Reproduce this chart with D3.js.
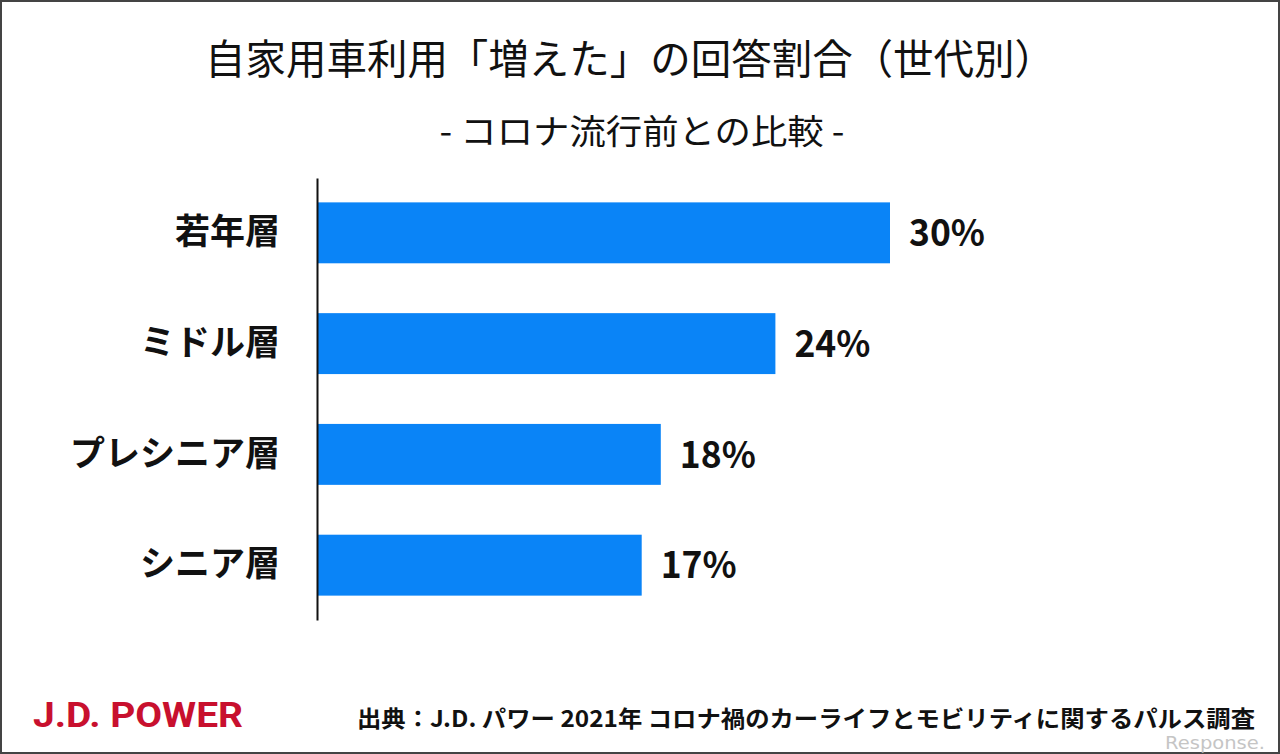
<!DOCTYPE html>
<html><head><meta charset="utf-8">
<script src="https://cdn.jsdelivr.net/npm/d3@7"></script>
<style>
html,body{margin:0;padding:0;background:#fff;}
svg{display:block;font-family:"Noto Sans CJK JP","Noto Sans",sans-serif;}
</style></head>
<body>
<svg id="c" width="1280" height="754"></svg>
<script>
const categories = ["若年層", "ミドル層", "プレシニア層", "シニア層"];
const values = [30, 24, 18, 17];
const valueLabels = ["30%", "24%", "18%", "17%"];
const title = "自家用車利用「増えた」の回答割合（世代別）";
const subtitle = "- コロナ流行前との比較 -";
const source = "出典：J.D. パワー 2021年 コロナ禍のカーライフとモビリティに関するパルス調査";

const svg = d3.select("#c");
svg.append("rect").attr("x",1).attr("y",1).attr("width",1278).attr("height",752)
  .attr("fill","#fff").attr("stroke","#444").attr("stroke-width",2);

svg.append("text").attr("x",630).attr("y",74).attr("text-anchor","middle")
  .attr("font-size",41).attr("fill","#111")
  .attr("textLength",850).attr("lengthAdjust","spacingAndGlyphs").text(title);
svg.append("text").attr("x",642).attr("y",144).attr("text-anchor","middle")
  .attr("font-size",34).attr("fill","#111")
  .attr("textLength",405).attr("lengthAdjust","spacingAndGlyphs").text(subtitle);

const x = d3.scaleLinear().domain([0,30]).range([317,890]);
const y = d3.scaleBand().domain(categories).range([178,620]).paddingInner(0.45).paddingOuter(0.22);

svg.selectAll("rect.bar").data(values).enter().append("rect").attr("class","bar")
  .attr("x",x(0)).attr("y",(d,i)=>y(categories[i]))
  .attr("width",d=>x(d)-x(0)).attr("height",y.bandwidth())
  .attr("fill","#0A84F7");

svg.selectAll("text.val").data(values).enter().append("text").attr("class","val")
  .attr("x",d=>x(d)+19).attr("y",(d,i)=>y(categories[i])+y.bandwidth()/2)
  .attr("dy","0.36em").attr("font-size",37).attr("font-weight","bold").attr("fill","#111")
  .attr("textLength",76).attr("lengthAdjust","spacingAndGlyphs")
  .text((d,i)=>valueLabels[i]);

const yAxis = d3.axisLeft(y).tickSize(0).tickPadding(37);
const g = svg.append("g").attr("transform",`translate(${x(0)},0)`).call(yAxis);
g.select(".domain").attr("stroke","#111").attr("stroke-width",2);
g.selectAll(".tick text").attr("font-size",35).attr("font-weight","bold").attr("fill","#111")
  .attr("font-family","\"Noto Sans CJK JP\",sans-serif");

svg.append("text").attr("x",33).attr("y",727).attr("font-size",35).attr("font-weight","bold")
  .attr("fill","#C8102E").attr("font-family","\"Liberation Sans Narrow\",Roboto,\"Noto Sans\",sans-serif")
  .attr("textLength",210).attr("lengthAdjust","spacingAndGlyphs")
  .text("J.D. POWER");
svg.append("text").attr("x",1255).attr("y",727).attr("text-anchor","end")
  .attr("font-size",23).attr("font-weight","bold").attr("fill","#111")
  .attr("textLength",898).attr("lengthAdjust","spacingAndGlyphs").text(source);
svg.append("text").attr("x",1265).attr("y",749).attr("text-anchor","end")
  .attr("font-size",17).attr("fill","#bbb").attr("opacity",0.85)
  .attr("font-family","\"DejaVu Sans\",sans-serif")
  .attr("textLength",100).attr("lengthAdjust","spacingAndGlyphs").text("Response.");
</script>
</body></html>
